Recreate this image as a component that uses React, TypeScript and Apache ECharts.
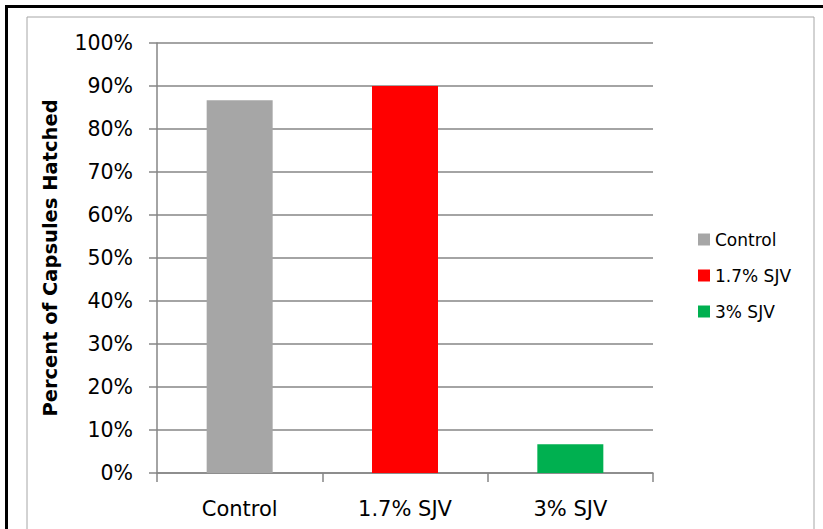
import React, { useEffect, useRef } from "react";
import * as echarts from "echarts";

const categories = ["Control", "1.7% SJV", "3% SJV"];
const seriesNames = ["Control", "1.7% SJV", "3% SJV"];
const values = [86.7, 90.0, 6.7];
const colors = ["#a6a6a6", "#ff0000", "#00b050"];
const yTicks = [0, 10, 20, 30, 40, 50, 60, 70, 80, 90, 100];

const FONT = "DejaVu Sans";

export default function App() {
  const ref = useRef<HTMLDivElement>(null);
  useEffect(() => {
    if (!ref.current) return;
    const chart = echarts.init(ref.current, null, { renderer: "svg" });
    const series = seriesNames.map((name, i) => ({
      name,
      type: "bar",
      stack: "all",
      barWidth: 66,
      itemStyle: { color: colors[i] },
      data: categories.map((_, j) => (j === i ? values[i] : "-")),
    }));
    chart.setOption({
      animation: false,
      backgroundColor: "#ffffff",
      graphic: [
        {
          type: "rect",
          shape: { x: 27, y: 17, width: 787, height: 530 },
          style: { fill: "none", stroke: "#a6a6a6", lineWidth: 1 },
          silent: true,
        },
        {
          type: "line",
          shape: { x1: 5, y1: 6.5, x2: 830, y2: 6.5 },
          style: { stroke: "#000000", lineWidth: 3 },
          silent: true,
        },
        {
          type: "line",
          shape: { x1: 6.5, y1: 5, x2: 6.5, y2: 540 },
          style: { stroke: "#000000", lineWidth: 3 },
          silent: true,
        },
      ],
      grid: { left: 157, right: 170, top: 43, bottom: 56, containLabel: false },
      legend: {
        orient: "vertical",
        left: 693,
        top: 226,
        itemWidth: 12,
        itemHeight: 12,
        itemGap: 19,
        icon: "rect",
        data: seriesNames,
        textStyle: { fontFamily: FONT, fontSize: 17, color: "#000" },
      },
      xAxis: {
        type: "category",
        data: categories,
        axisLine: { lineStyle: { color: "#868686", width: 1.5 } },
        axisTick: { show: true, length: 9, lineStyle: { color: "#868686", width: 1.5 } },
        axisLabel: { fontFamily: FONT, fontSize: 21, color: "#000", margin: 25 },
      },
      yAxis: {
        type: "value",
        min: yTicks[0],
        max: yTicks[yTicks.length - 1],
        interval: 10,
        name: "Percent of Capsules Hatched",
        nameLocation: "middle",
        nameGap: 97,
        nameTextStyle: { fontFamily: FONT, fontSize: 19.5, fontWeight: "bold", color: "#000" },
        axisLine: { show: true, lineStyle: { color: "#868686", width: 1.5 } },
        axisTick: { show: true, length: 8, lineStyle: { color: "#868686", width: 1.5 } },
        splitLine: { lineStyle: { color: "#868686", width: 1.5 } },
        axisLabel: {
          fontFamily: FONT,
          fontSize: 20.5,
          color: "#000",
          margin: 24,
          formatter: (v: number) => `${v}%`,
        },
      },
      series,
    });
    return () => chart.dispose();
  }, []);
  return (
    <div
      ref={ref}
      style={{ position: "fixed", left: 0, top: 0, width: 823, height: 529, background: "#fff" }}
    />
  );
}
